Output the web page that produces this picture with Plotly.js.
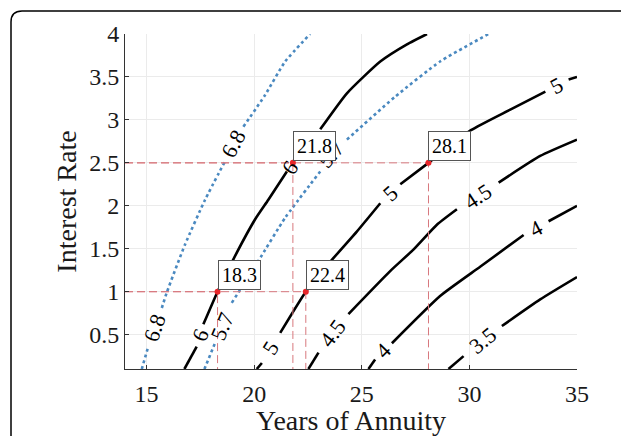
<!DOCTYPE html>
<html>
<head>
<meta charset="utf-8">
<script src="https://cdn.plot.ly/plotly-3.0.1.min.js"></script>
<style>
  html, body { margin: 0; padding: 0; background: #ffffff; }
  #chart { width: 621px; height: 436px; }
</style>
</head>
<body>
<div id="chart"></div>
<script>
// ---- Data ----
// Black solid contour lines (null = gap where the level label sits)
const black6X  = [16.76, 17.33, null, 17.64, 18.3, 19.04, 20.04, 20.66, 21.52, null, 23.07, 24.31, 25.86, 27.1, 28.03];
const black6Y  = [0.10, 0.36, null, 0.62, 1.0, 1.38, 1.84, 2.07, 2.40, null, 2.89, 3.31, 3.68, 3.88, 4.00];
const black5X  = [20.12, 20.36, null, 21.21, 22.4, 23.68, 24.77, 25.86, null, 26.79, 28.1, 30.07, 31.9, 33.53, null, 34.61, 35.0];
const black5Y  = [0.10, 0.17, null, 0.52, 1.0, 1.39, 1.70, 2.03, null, 2.25, 2.5, 2.88, 3.12, 3.33, null, 3.47, 3.50];
const black45X = [22.52, 22.99, null, 24.38, 26.32, 27.40, 28.49, 29.42, null, 31.36, 33.29, 35.0];
const black45Y = [0.10, 0.29, null, 0.74, 1.24, 1.49, 1.78, 1.96, null, 2.27, 2.58, 2.77];
const black4X  = [25.31, 25.62, null, 26.40, 28.64, 30.50, 32.52, null, 33.68, 35.0];
const black4Y  = [0.10, 0.21, null, 0.40, 0.95, 1.29, 1.66, null, 1.82, 2.00];
const black35X = [29.03, 29.73, null, 31.51, 33.29, 35.0];
const black35Y = [0.10, 0.25, null, 0.60, 0.91, 1.17];

// Blue dotted contour lines
const blue68X = [14.78, 15.08, null, 15.71, 15.94, 16.79, 17.72, 18.65, null, 19.50, 20.51, 21.44, 22.6];
const blue68Y = [0.10, 0.36, null, 0.81, 0.99, 1.55, 2.07, 2.52, null, 2.92, 3.29, 3.68, 4.0];
const blue57X = [17.69, 18.18, null, 18.96, 20.2, 21.44, 23.07, null, 24.31, 26.55, 28.64, 30.89];
const blue57Y = [0.10, 0.40, null, 0.87, 1.36, 1.86, 2.40, null, 2.77, 3.27, 3.68, 4.0];

// Contour level labels: text, position, angle
const levelText  = ['6.8', '6.8', '6', '6', '5.7', '5.7', '5', '5', '5', '4.5', '4.5', '4', '4', '3.5'];
const levelX     = [15.39, 19.03, 17.49, 21.66, 18.50, 23.55, 20.78, 26.32, 34.06, 23.68, 30.39, 26.01, 33.09, 30.62];
const levelY     = [0.58, 2.73, 0.49, 2.45, 0.60, 2.60, 0.35, 2.14, 3.40, 0.52, 2.11, 0.31, 1.74, 0.43];
const levelAngle = [-71, -62, -68, -57, -67, -50, -58, -42, -27, -53, -33, -45, -28, -39];

// Marked points (years, rate) and their labels
const ptX = [18.3, 22.4, 21.8, 28.1];
const ptY = [1.0, 1.0, 2.5, 2.5];
const ptLabel = ['18.3', '22.4', '21.8', '28.1'];

// Axis ticks
const xTicks = [15, 20, 25, 30, 35];
const yTicks = [0.5, 1, 1.5, 2, 2.5, 3, 3.5, 4];
const xRange = [14, 35];
const yRange = [0.1, 4];

// ---- Build traces ----
const SERIF = 'Liberation Serif, Times New Roman, serif';
const BLUE = '#4a89c0';
const traces = [];

function blueLine(x, y) {
  return {x: x, y: y, type: 'scatter', mode: 'lines', connectgaps: false,
          line: {color: BLUE, width: 2.6, dash: 'dot', shape: 'spline', smoothing: 0.5},
          hoverinfo: 'skip', showlegend: false};
}
function blackLine(x, y) {
  return {x: x, y: y, type: 'scatter', mode: 'lines', connectgaps: false,
          line: {color: '#000000', width: 2.6, shape: 'spline', smoothing: 0.5},
          hoverinfo: 'skip', showlegend: false};
}
traces.push(blueLine(blue68X, blue68Y));
traces.push(blueLine(blue57X, blue57Y));
[[black6X, black6Y], [black5X, black5Y], [black45X, black45Y], [black4X, black4Y], [black35X, black35Y]]
  .forEach(p => traces.push(blackLine(p[0], p[1])));

// Dashed guide lines for each marked point
ptX.forEach((px, i) => {
  traces.push({
    x: [xRange[0], px, px], y: [ptY[i], ptY[i], yRange[0]],
    type: 'scatter', mode: 'lines',
    line: {color: '#d8787e', width: 1, dash: '8px,4px'},
    hoverinfo: 'skip', showlegend: false
  });
});
traces.push({
  x: ptX, y: ptY, type: 'scatter', mode: 'markers',
  marker: {color: '#e8262a', size: 6}, hoverinfo: 'skip', showlegend: false
});

// ---- Annotations ----
const annotations = [];
levelText.forEach((t, i) => {
  annotations.push({
    x: levelX[i], y: levelY[i], xref: 'x', yref: 'y', text: t, showarrow: false,
    textangle: levelAngle[i], xanchor: 'center', yanchor: 'middle',
    font: {family: SERIF, size: 22, color: '#000000'}
  });
});
ptLabel.forEach((t, i) => {
  annotations.push({
    x: ptX[i], y: ptY[i], xref: 'x', yref: 'y', text: t, showarrow: false,
    xanchor: 'left', yanchor: 'bottom', yshift: 2,
    bgcolor: '#ffffff', bordercolor: '#555555', borderwidth: 1, borderpad: 3,
    font: {family: SERIF, size: 20, color: '#000000'}
  });
});

// ---- Layout ----
const W = 452, H = 335; // plot area in px
const xp = px => (px - 125) / W;
const yp = py => (369 - py) / H;
const framePath = 'M ' + xp(11) + ',' + yp(445) +
                  ' L ' + xp(11) + ',' + yp(22) +
                  ' Q ' + xp(11) + ',' + yp(11) + ' ' + xp(22) + ',' + yp(11) +
                  ' L ' + xp(640) + ',' + yp(11);

const layout = {
  width: 621, height: 436,
  margin: {l: 125, r: 44, t: 34, b: 67, pad: 0},
  paper_bgcolor: '#ffffff', plot_bgcolor: '#ffffff',
  showlegend: false,
  font: {family: SERIF, color: '#1a1a1a'},
  xaxis: {
    range: xRange, tickvals: xTicks, ticktext: xTicks.map(String),
    showgrid: true, gridcolor: '#ebebeb', gridwidth: 1, zeroline: false,
    showline: true, linecolor: '#333333', linewidth: 1,
    ticks: 'inside', ticklen: 4, tickcolor: '#333333',
    tickfont: {family: SERIF, size: 24, color: '#1a1a1a'},
    ticklabelstandoff: 3,
    title: {text: 'Years of Annuity', font: {family: SERIF, size: 28, color: '#1a1a1a'}, standoff: 9},
    automargin: false
  },
  yaxis: {
    range: yRange, tickvals: yTicks, ticktext: yTicks.map(String),
    showgrid: true, gridcolor: '#ebebeb', gridwidth: 1, zeroline: false,
    showline: true, linecolor: '#333333', linewidth: 1,
    ticks: 'inside', ticklen: 4, tickcolor: '#333333',
    tickfont: {family: SERIF, size: 24, color: '#1a1a1a'},
    ticklabelstandoff: 0,
    title: {text: 'Interest Rate', font: {family: SERIF, size: 28, color: '#1a1a1a'}, standoff: 4},
    automargin: false
  },
  annotations: annotations,
  shapes: [{
    type: 'path', xref: 'paper', yref: 'paper', path: framePath,
    line: {color: '#000000', width: 1.5}, layer: 'above'
  }]
};

Plotly.newPlot('chart', traces, layout, {staticPlot: true, displayModeBar: false});
</script>
</body>
</html>
